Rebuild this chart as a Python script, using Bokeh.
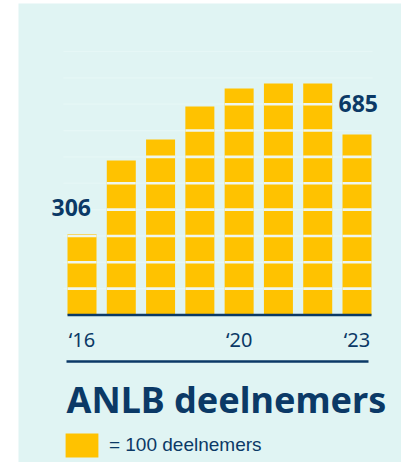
from bokeh.plotting import figure
from bokeh.models import Range1d, Legend, LegendItem
from bokeh.core.properties import value
from bokeh.embed import file_html
from bokeh.resources import INLINE

# ---------------- data ----------------
years = [2016, 2017, 2018, 2019, 2020, 2021, 2022, 2023]
participants = [306, 586, 666, 791, 860, 879, 879, 685]
tick_years = [2016, 2020, 2023]
tick_labels = ["\u201816", "\u201820", "\u201823"]
label_years = [2016, 2023]
block_unit = 100
grid_values = [100, 200, 300, 400, 500, 600, 700, 800, 900, 1000]
title_text = "ANLB deelnemers"
legend_text = "= 100 deelnemers"

# ---------------- style ----------------
BG = "#e0f4f3"
YELLOW = "#ffc200"
NAVY = "#0b3966"
SEP = "#eef6ef"
GRID = "#e6f7f6"

# pixel geometry helpers (layout only; canvas px)
PX_PER_YEAR = 39.286
PX_PER_UNIT = 0.2635
X_REF_PX, Y_BASE_PX = 81.5, 314.5
PANEL_LEFT, PANEL_TOP = 18, 3
W, H = 401, 462


def xd(px):
    return years[0] + (px - X_REF_PX) / PX_PER_YEAR


def yd(py):
    return (Y_BASE_PX - py) / PX_PER_UNIT


x_range = Range1d(xd(PANEL_LEFT), xd(W))
y_range = Range1d(yd(H), yd(PANEL_TOP))

p = figure(width=W, height=H, output_backend="svg", toolbar_location=None,
           x_range=x_range, y_range=y_range,
           x_axis_type=None, y_axis_type=None,
           min_border_left=PANEL_LEFT, min_border_right=0,
           min_border_top=PANEL_TOP, min_border_bottom=0,
           background_fill_color=BG, border_fill_color="white",
           outline_line_color=None)
p.grid.visible = False

bar_w = 29 / PX_PER_YEAR

# faint grid lines
p.segment(x0=[years[0] - bar_w / 2 - 4 / PX_PER_YEAR] * len(grid_values),
          x1=[years[-1] + bar_w / 2 + 1 / PX_PER_YEAR] * len(grid_values),
          y0=grid_values, y1=grid_values, line_color=GRID, line_width=1.2)

# bars
bars = p.vbar(x=years, top=participants, bottom=0, width=bar_w,
              fill_color=YELLOW, line_color=None)

# block separators every 100
sx0, sx1, sy = [], [], []
for yr, v in zip(years, participants):
    k = block_unit
    while k < v:
        sx0.append(yr - bar_w / 2)
        sx1.append(yr + bar_w / 2)
        sy.append(k)
        k += block_unit
p.segment(x0=sx0, x1=sx1, y0=sy, y1=sy, line_color=SEP, line_width=2.6)

# baseline
p.segment(x0=[years[0] - bar_w / 2], x1=[years[-1] + bar_w / 2], y0=[0], y1=[0],
          line_color=NAVY, line_width=2.6)

# x tick labels
p.text(x=tick_years, y=[yd(347.3 - 8.5)] * len(tick_years), text=tick_labels,
       text_font=value("Noto Sans"), text_font_size="20px",
       text_color=NAVY, text_align="center", text_baseline="alphabetic")

# rule under tick labels
p.segment(x0=[xd(66)], x1=[xd(368)], y0=[yd(361)], y1=[yd(361)],
          line_color=NAVY, line_width=2.6)

# value labels
label_vals = [participants[years.index(y)] for y in label_years]
p.text(x=[xd(51), xd(338)], y=[yd(215 - 8.5), yd(111.7 - 8.5)],
       text=[str(v) for v in label_vals],
       text_font=value("Noto Sans"), text_font_size="23px", text_font_style="bold",
       text_color=NAVY, text_align="left", text_baseline="alphabetic")

# title
p.text(x=[xd(66)], y=[yd(412 - 13)], text=[title_text],
       text_font=value("Noto Sans"), text_font_size="36px", text_font_style="bold",
       text_color=NAVY, text_align="left", text_baseline="alphabetic")

# legend (location measured from frame bottom-left)
legend = Legend(items=[LegendItem(label=legend_text, renderers=[bars])],
                location=(65 - 4.1 - PANEL_LEFT, H - 460), orientation="vertical",
                glyph_width=41, glyph_height=30, label_standoff=7,
                padding=0, margin=0, spacing=0,
                background_fill_alpha=0, border_line_color=None,
                label_text_font="Liberation Sans", label_text_font_size="19px",
                label_text_color=NAVY)
p.add_layout(legend)

open("out.html", "w").write(file_html(p, INLINE))
